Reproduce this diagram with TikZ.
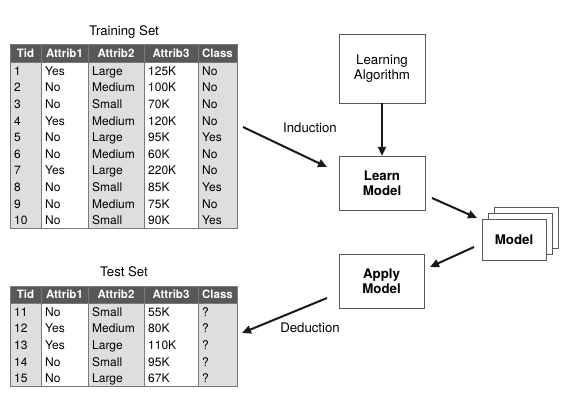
\documentclass[tikz,border=0pt]{standalone}
\usepackage{fontspec}
\setmainfont{TeX Gyre Heros}
\usetikzlibrary{arrows.meta, positioning}
\definecolor{hdrgray}{HTML}{585858}
\definecolor{colgray}{HTML}{DEDEDE}
\definecolor{linegray}{HTML}{7A7A7A}

\begin{document}
\begin{tikzpicture}[
    x=1pt, y=-1pt,
    title/.style={font=\fontsize{13.2}{15}\selectfont},
    hdr/.style={font=\fontsize{11.5}{12}\selectfont\bfseries, text=white, inner sep=0pt},
    cell/.style={font=\fontsize{12}{13}\selectfont, anchor=base west, inner sep=0pt},
    box/.style={draw=black!65, fill=white, align=center, inner sep=0pt,
        font=\fontsize{13.3}{15}\selectfont},
    arr/.style={-{Triangle[length=9pt,width=8pt]}, line width=2pt, draw=black!90}
]
   \useasboundingbox (0,0) rectangle (569,401);

   % Training set
   \node[title] (traintitle) at (124,32) {Training Set};
   \fill[colgray] (10,62) rectangle (41,228);
   \fill[colgray] (88,62) rectangle (144,228);
   \fill[colgray] (198,62) rectangle (237,228);
   \fill[hdrgray] (10,45) rectangle (237,62);
   \foreach \x in {41,88,144,198}
      \draw[linegray] (\x,45) -- (\x,228);
   \draw[linegray, line width=1pt] (10,45) rectangle (237,228);
   \draw[linegray] (10,62) -- (237,62);
   \foreach \cx/\h [count=\i] in {25.5/Tid, 64.5/Attrib1, 116/Attrib2, 171/Attrib3, 217.5/Class}
      \node[hdr] (trh\i) at (\cx,53.5) {\h};
   \foreach \a/\b/\c/\d [count=\r] in {Yes/Large/125K/No, No/Medium/100K/No,
         No/Small/70K/No, Yes/Medium/120K/No, No/Large/95K/Yes, No/Medium/60K/No,
         Yes/Large/220K/No, No/Small/85K/Yes, No/Medium/75K/No, No/Small/90K/Yes}{
      \node[cell] (tr\r-0) at (14,58.7+16.6*\r) {\r};
      \node[cell] (tr\r-1) at (45,58.7+16.6*\r) {\a};
      \node[cell] (tr\r-2) at (92,58.7+16.6*\r) {\b};
      \node[cell] (tr\r-3) at (148,58.7+16.6*\r) {\c};
      \node[cell] (tr\r-4) at (202,58.7+16.6*\r) {\d};
   }

   % Test set
   \node[title] (testtitle) at (124,272) {Test Set};
   \fill[colgray] (10,303) rectangle (41,386);
   \fill[colgray] (88,303) rectangle (144,386);
   \fill[colgray] (198,303) rectangle (237,386);
   \fill[hdrgray] (10,286) rectangle (237,303);
   \foreach \x in {41,88,144,198}
      \draw[linegray] (\x,286) -- (\x,386);
   \draw[linegray, line width=1pt] (10,286) rectangle (237,386);
   \draw[linegray] (10,303) -- (237,303);
   \foreach \cx/\h [count=\i] in {25.5/Tid, 64.5/Attrib1, 116/Attrib2, 171/Attrib3, 217.5/Class}
      \node[hdr] (tsh\i) at (\cx,294.5) {\h};
   \foreach \t/\a/\b/\c [count=\r] in {11/No/Small/55K, 12/Yes/Medium/80K,
         13/Yes/Large/110K, 14/No/Small/95K, 15/No/Large/67K}{
      \node[cell] (ts\r-0) at (14,299.7+16.6*\r) {\t};
      \node[cell] (ts\r-1) at (45,299.7+16.6*\r) {\a};
      \node[cell] (ts\r-2) at (92,299.7+16.6*\r) {\b};
      \node[cell] (ts\r-3) at (148,299.7+16.6*\r) {\c};
      \node[cell] (ts\r-4) at (202,299.7+16.6*\r) {?};
   }

   % Boxes
   \node[box, minimum width=86pt, minimum height=69pt] (algo) at (382,68.5) {Learning\\Algorithm};
   \node[box, minimum width=86pt, minimum height=54pt, font=\fontsize{13.3}{15}\selectfont\bfseries] (learn) at (382,183) {Learn\\Model};
   \node[box, minimum width=85pt, minimum height=54pt, font=\fontsize{13.3}{15}\selectfont\bfseries] (apply) at (381.5,281) {Apply\\Model};
   \node[box, minimum width=64pt, minimum height=41pt] (model3) at (526,227.5) {};
   \node[box, minimum width=64pt, minimum height=41pt] (model2) at (520,233.5) {};
   \node[box, minimum width=64pt, minimum height=41pt, font=\fontsize{13.3}{15}\selectfont\bfseries] (model) at (514,239.5) {Model};

   % Arrow ends
   \coordinate (ind0) at (243,127);
   \coordinate (ind1) at (327,167);
   \coordinate (lm0) at (432,198);
   \coordinate (lm1) at (477,218);
   \coordinate (am0) at (474,247);
   \coordinate (am1) at (430,267);
   \coordinate (ded0) at (327,298);
   \coordinate (ded1) at (242,333);

   % Arrows
   \draw[arr] (algo) -- (learn);
   \draw[arr] (ind0) -- (ind1);
   \draw[arr] (lm0) -- (lm1);
   \draw[arr] (am0) -- (am1);
   \draw[arr] (ded0) -- (ded1);
   \node[title] (induction) at (310,128) {Induction};
   \node[title] (deduction) at (310,328) {Deduction};
\end{tikzpicture}
\end{document}
